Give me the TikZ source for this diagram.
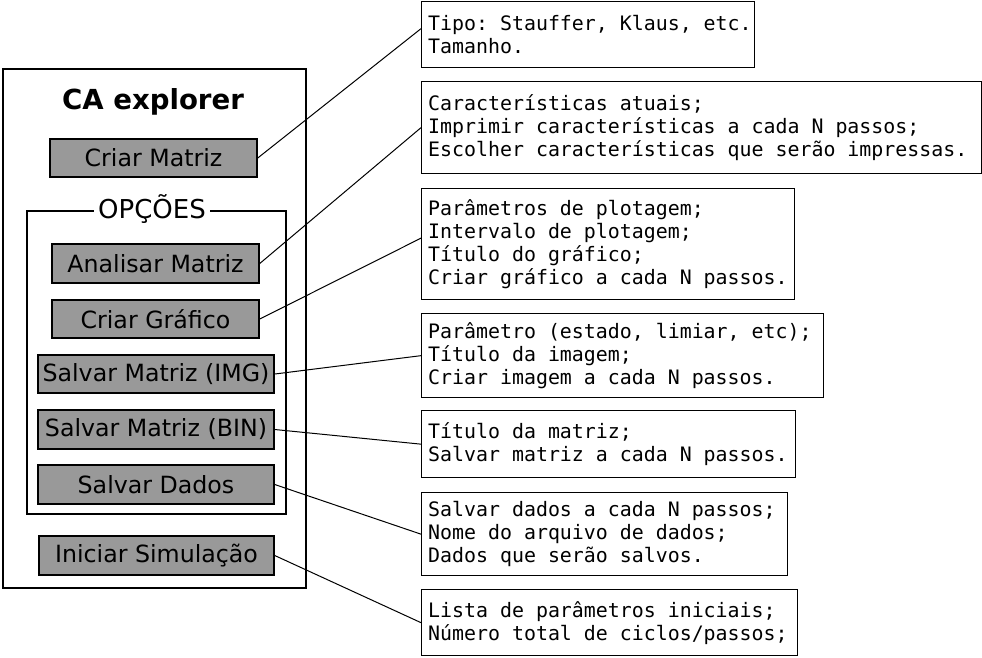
\documentclass[tikz,border=0pt]{standalone}
\usepackage{fontspec}
\setmainfont{DejaVu Sans}
\newfontfamily\monofont{DejaVu Sans Mono}
\begin{document}
\begin{tikzpicture}[x=1pt,y=-1pt,
  btn/.style={draw=black, line width=1.5pt, fill=black!40, text=black,
    font=\fontsize{23.7}{26}\selectfont, inner sep=0pt},
  infobox/.style={draw=black, line width=1.3pt, fill=white,
    anchor=north west, inner sep=0pt},
  infotext/.style={font=\monofont\fontsize{19.9}{23}\selectfont\frenchspacing, align=left,
    anchor=west, inner sep=0pt},
  link/.style={line width=1pt}]
\useasboundingbox (0,0) rectangle (982,657);

% container boxes
\node[draw, line width=2pt, minimum width=303pt, minimum height=519pt,
  anchor=north west, inner sep=0pt] (outer) at (2,68) {};
\node[font=\bfseries\fontsize{27.6}{30}\selectfont] (title) at (153,102) {CA explorer};
\node[draw, line width=1.5pt, minimum width=259pt, minimum height=303pt,
  anchor=north west, inner sep=0pt] (opt) at (26,210) {};
\node[fill=white, inner xsep=4pt, inner ysep=2pt, font=\fontsize{26}{28}\selectfont]
  (optlabel) at (152,209) {OPÇÕES};

% buttons
\node[btn, minimum width=207pt, minimum height=38pt] (cm) at (153.5,158) {Criar Matriz};
\node[btn, minimum width=207pt, minimum height=39pt] (am) at (155.5,263.5) {Analisar Matriz};
\node[btn, minimum width=207pt, minimum height=38pt] (cg) at (155.5,319) {Criar Gráfico};
\node[btn, minimum width=236pt, minimum height=38pt] (si) at (156,374) {Salvar Matriz (IMG)};
\node[btn, minimum width=236pt, minimum height=39pt] (sb) at (156,429.5) {Salvar Matriz (BIN)};
\node[btn, minimum width=236pt, minimum height=39pt] (sd) at (156,484.5) {Salvar Dados};
\node[btn, minimum width=235pt, minimum height=39pt] (is) at (156.5,555.5) {Iniciar Simulação};

% info boxes
\node[infobox, minimum width=333pt, minimum height=66pt] (b1) at (421,1) {};
\node[infotext] (t1) at ([xshift=7pt]b1.west)
  {Tipo: Stauffer, Klaus, etc.\\Tamanho.};
\node[infobox, minimum width=560pt, minimum height=92pt] (b2) at (421,81) {};
\node[infotext] (t2) at ([xshift=7pt]b2.west)
  {Características atuais;\\Imprimir características a cada N passos;\\Escolher características que serão impressas.};
\node[infobox, minimum width=373pt, minimum height=111pt] (b3) at (421,188) {};
\node[infotext] (t3) at ([xshift=7pt]b3.west)
  {Parâmetros de plotagem;\\Intervalo de plotagem;\\Título do gráfico;\\Criar gráfico a cada N passos.};
\node[infobox, minimum width=402pt, minimum height=84pt] (b4) at (421,313) {};
\node[infotext] (t4) at ([xshift=7pt]b4.west)
  {Parâmetro (estado, limiar, etc);\\Título da imagem;\\Criar imagem a cada N passos.};
\node[infobox, minimum width=374pt, minimum height=67pt] (b5) at (421,410) {};
\node[infotext] (t5) at ([xshift=7pt]b5.west)
  {Título da matriz;\\Salvar matriz a cada N passos.};
\node[infobox, minimum width=366pt, minimum height=83pt] (b6) at (421,492) {};
\node[infotext] (t6) at ([xshift=7pt]b6.west)
  {Salvar dados a cada N passos;\\Nome do arquivo de dados;\\Dados que serão salvos.};
\node[infobox, minimum width=376pt, minimum height=66pt] (b7) at (421,589) {};
\node[infotext] (t7) at ([xshift=7pt]b7.west)
  {Lista de parâmetros iniciais;\\Número total de ciclos/passos;};

% connectors
\draw[link] (cm.east) -- ([yshift=6pt]b1.west);
\draw[link] (am.east) -- (b2.west);
\draw[link] (cg.east) -- ([yshift=6pt]b3.west);
\draw[link] (si.east) -- (b4.west);
\draw[link] (sb.east) -- (b5.west);
\draw[link] (sd.east) -- (b6.west);
\draw[link] (is.east) -- (b7.west);
\end{tikzpicture}
\end{document}
